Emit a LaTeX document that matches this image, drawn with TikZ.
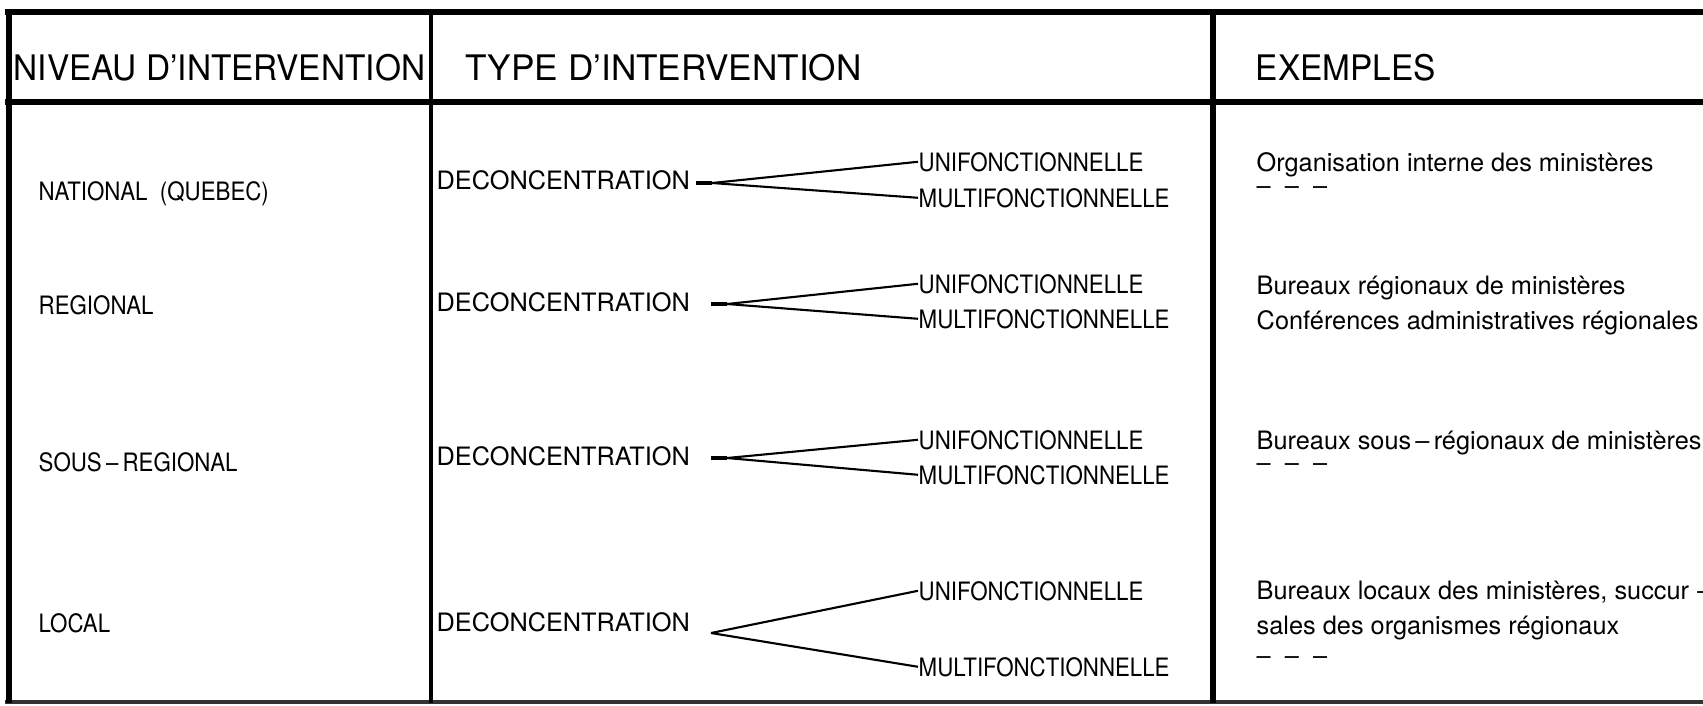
\documentclass[tikz,border=0pt]{standalone}
\usepackage{fontspec}
\setmainfont{TeX Gyre Heros}
\newfontfamily\headfont[FakeStretch=0.95]{TeX Gyre Heros}
\newfontfamily\narrowfont[FakeStretch=0.88]{TeX Gyre Heros}
\begin{document}
\begin{tikzpicture}[x=0.01cm,y=-0.01cm,
  rule/.style={line width=1.5pt},
  thinrule/.style={line width=0.9pt},
  head/.style={anchor=base west,inner sep=0pt,font=\headfont\fontsize{10pt}{12pt}\selectfont},
  widehead/.style={head,font=\fontsize{10pt}{12pt}\selectfont},
  txt/.style={anchor=base west,inner sep=0pt,font=\fontsize{7.2pt}{8.6pt}\selectfont},
  kind/.style={txt,font=\narrowfont\fontsize{7.2pt}{8.6pt}\selectfont},
  branch/.style={line width=0.6pt},
  stem/.style={line width=1.1pt}]
\useasboundingbox (0,0) rectangle (1703,705);

% table rules
\draw[rule] (5,12) -- (1703,12);
\draw[rule] (5,102) -- (1703,102);
\draw[thinrule,black!80] (5,702) -- (1703,702);
\draw[rule] (9,12) -- (9,703);
\draw[line width=1.2pt] (431,12) -- (431,703);
\draw[rule] (1213,12) -- (1213,703);

% column heads
\node[head] (h1) at (13,80) {NIVEAU D’INTERVENTION};
\node[widehead] (h2) at (465,80) {TYPE D’INTERVENTION};
\node[head] (h3) at (1255,80) {EXEMPLES};

% levels
\node[kind] (l1) at (38,200) {NATIONAL\ \ (QUEBEC)};
\node[kind] (l2) at (38,314) {REGIONAL};
\node[kind] (l3) at (38,471) {SOUS\,–\,REGIONAL};
\node[kind] (l4) at (38,632) {LOCAL};

% types
\node[txt] (d1) at (436,189) {DECONCENTRATION};
\node[txt] (d2) at (436,311) {DECONCENTRATION};
\node[txt] (d3) at (436,465) {DECONCENTRATION};
\node[txt] (d4) at (436,631) {DECONCENTRATION};

\node[kind] (u1) at (918,171) {UNIFONCTIONNELLE};
\node[kind] (m1) at (918,207) {MULTIFONCTIONNELLE};
\node[kind] (u2) at (918,293) {UNIFONCTIONNELLE};
\node[kind] (m2) at (918,328) {MULTIFONCTIONNELLE};
\node[kind] (u3) at (918,449) {UNIFONCTIONNELLE};
\node[kind] (m3) at (918,484) {MULTIFONCTIONNELLE};
\node[kind] (u4) at (918,600) {UNIFONCTIONNELLE};
\node[kind] (m4) at (918,676) {MULTIFONCTIONNELLE};

% forks
\coordinate (s1) at (696,183); \coordinate (f1) at (712,183);
\coordinate (s2) at (711,304); \coordinate (f2) at (727,304);
\coordinate (s3) at (711,458); \coordinate (f3) at (727,458);
\coordinate (f4) at (711,633);
\draw[stem] (s1) -- (f1);
\draw[stem] (s2) -- (f2);
\draw[stem] (s3) -- (f3);
\draw[branch] (f1) -- (u1.west);
\draw[branch] (f1) -- (m1.west);
\draw[branch] (f2) -- (u2.west);
\draw[branch] (f2) -- (m2.west);
\draw[branch] (f3) -- (u3.west);
\draw[branch] (f3) -- (m3.west);
\draw[branch] (f4) -- (u4.west);
\draw[branch] (f4) -- (m4.west);

% examples
\node[txt] (e1) at (1256,171) {Organisation interne des ministères};
\node[txt] (e1b) at (1256,194) {–\ \ –\ \ –};
\node[txt] (e2) at (1256,294) {Bureaux régionaux de ministères};
\node[txt] (e2b) at (1256,329) {Conférences administratives régionales};
\node[txt] (e3) at (1256,449) {Bureaux sous\,–\,régionaux de ministères};
\node[txt] (e3b) at (1256,471) {–\ \ –\ \ –};
\node[txt] (e4) at (1256,599) {Bureaux locaux des ministères, succur -};
\node[txt] (e4b) at (1256,634) {sales des organismes régionaux};
\node[txt] (e4c) at (1256,664) {–\ \ –\ \ –};
\end{tikzpicture}
\end{document}
